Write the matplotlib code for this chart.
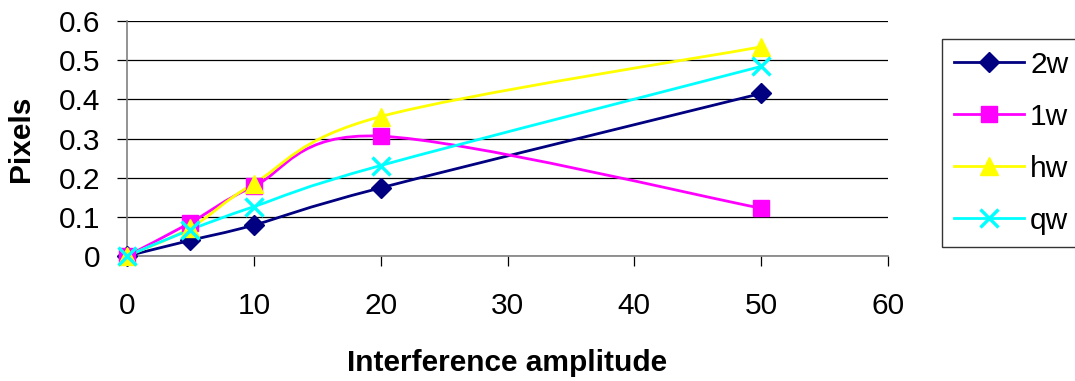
import numpy as np
import matplotlib.pyplot as plt
from matplotlib.path import Path
from matplotlib.patches import PathPatch
from matplotlib.lines import Line2D

plt.rcParams['font.family'] = ['Liberation Sans', 'DejaVu Sans']

# measured pixel error vs. interference amplitude
amplitude = [0, 5, 10, 20, 50]
err_2w = [0, 0.040, 0.079, 0.174, 0.415]
err_1w = [0, 0.085, 0.178, 0.306, 0.122]
err_hw = [0, 0.072, 0.185, 0.356, 0.534]
err_qw = [0, 0.067, 0.126, 0.231, 0.484]

labels = ['2w', '1w', 'hw', 'qw']
series = [err_2w, err_1w, err_hw, err_qw]
colors = ['#000080', '#FF00FF', '#FFFF00', '#00FFFF']
markers = ['D', 's', '^', 'x']
msizes = [10, 11.5, 13, 12.5]

x_ticks = [0, 10, 20, 30, 40, 50, 60]
y_ticks = [0, 0.1, 0.2, 0.3, 0.4, 0.5, 0.6]


def smooth_path(xs, ys):
    # spreadsheet-style smoothed line: cubic bezier through every point
    pts = np.column_stack([xs, ys]).astype(float)
    n = len(pts)
    verts = [pts[0]]
    codes = [Path.MOVETO]
    for i in range(n - 1):
        p0 = pts[max(i - 1, 0)]
        p1 = pts[i]
        p2 = pts[i + 1]
        p3 = pts[min(i + 2, n - 1)]
        verts += [p1 + (p2 - p0) / 6, p2 - (p3 - p1) / 6, p2]
        codes += [Path.CURVE4] * 3
    return Path(verts, codes)


fig = plt.figure(figsize=(10.75, 3.81), dpi=100)
ax = fig.add_axes([127 / 1075, 1 - 256 / 381, 761 / 1075, 235 / 381])

for ys, c, m, ms in zip(series, colors, markers, msizes):
    ax.add_patch(PathPatch(smooth_path(amplitude, ys), facecolor='none',
                           edgecolor=c, lw=2, zorder=3))
    ax.plot(amplitude, ys, linestyle='none', marker=m, ms=ms, color=c,
            mec=c, mew=2.4 if m == 'x' else 1, zorder=4, clip_on=False)

ax.set_xlim(0, 60)
ax.set_ylim(0, 0.6)
ax.set_xticks(x_ticks)
ax.set_yticks(y_ticks)
ax.set_xticklabels([str(t) for t in x_ticks])
ax.set_yticklabels(['0'] + ['%.1f' % t for t in y_ticks[1:]])
ax.grid(axis='y', color='black', lw=0.9)
ax.set_axisbelow(True)

for side in ['top', 'right']:
    ax.spines[side].set_visible(False)
for side in ['left', 'bottom']:
    ax.spines[side].set_color('#808080')
    ax.spines[side].set_linewidth(1.2)

ax.tick_params(axis='both', direction='out', length=7, width=0.9,
               color='black', labelsize=21.5)
ax.tick_params(axis='y', pad=12)
ax.tick_params(axis='x', pad=19)

ax.set_xlabel('Interference amplitude', fontsize=21.5, fontweight='bold',
              labelpad=21)
ax.set_ylabel('Pixels', fontsize=21.5, fontweight='bold', labelpad=17)

handles = [Line2D([], [], color=c, lw=2, marker=m, ms=ms, mec=c,
                  mew=2.4 if m == 'x' else 1)
           for c, m, ms in zip(colors, markers, msizes)]
leg = fig.legend(handles, labels, loc='upper left',
                 bbox_to_anchor=(942 / 1075, 1 - 39 / 381),
                 fontsize=21.5, frameon=True, fancybox=False,
                 borderaxespad=0, borderpad=0.4, handlelength=2.35,
                 handletextpad=0.2, labelspacing=0.8)
leg.get_frame().set_edgecolor('black')
leg.get_frame().set_linewidth(1)

fig.savefig('out.png', dpi=100)
